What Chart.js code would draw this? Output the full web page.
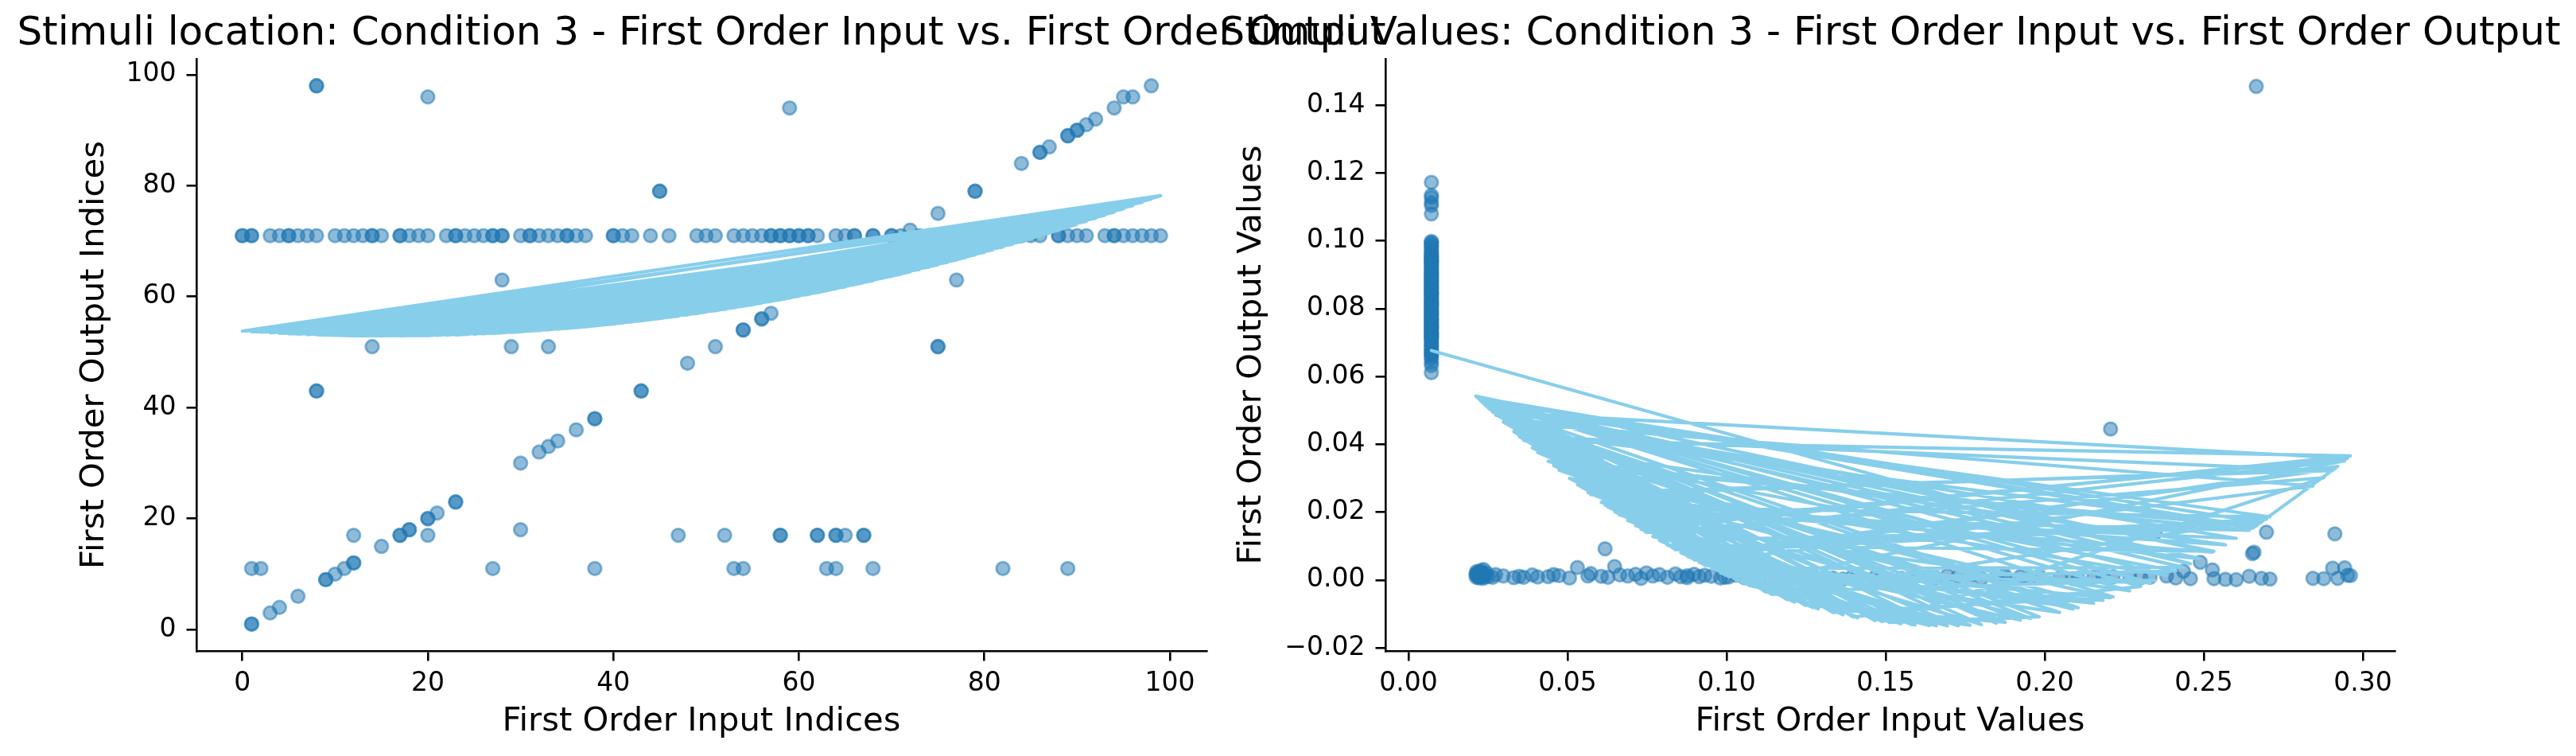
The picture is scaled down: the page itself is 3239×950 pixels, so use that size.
<!DOCTYPE html>
<html>
<head>
<meta charset="utf-8">
<script src="https://cdn.jsdelivr.net/npm/chart.js@4.4.0/dist/chart.umd.min.js"></script>
<style>
  html, body { margin: 0; padding: 0; background: #fff; }
  #wrap { position: relative; width: 3239px; height: 950px; }
  canvas { position: absolute; left: 0; top: 0; }
</style>
</head>
<body>
<div id="wrap">
  <canvas id="idxChart" width="3239" height="950"></canvas>
  <canvas id="valChart" width="3239" height="950"></canvas>
</div>
<script>
// ---- data: stimuli location (indices), in recorded order ----
const idxInput = [
  57,3,88,24,70,12,95,40,1,66, 31,83,18,59,7,91,44,27,61,99,
  0,50,35,76,14,86,22,58,10,97, 33,64,5,80,41,17,94,53,28,68,
  13,89,36,60,4,73,25,98,46,19, 85,31,57,6,93,42,23,70,11,55,
  88,35,1,78,62,26,96,49,15,66, 37,84,8,59,30,74,20,90,54,14,
  61,0,81,40,27,94,51,17,68,32, 5,71,58,23,65,28,60,34,56,
  54,8,89,12,75,33,96,1,62,20, 86,38,45,9,64,90,28,17,54,98,
  3,67,43,79,14,56,2,91,23,58, 30,82,10,87,20,51,75,8,64,18,
  94,36,47,1,89,59,21,72,62,6, 90,29,38,65,12,86,54,33,4,79,
  53,34,92,17,68,43,20,95,11,57, 30,84,23,63,8,48,67,15,89,27,
  56,45,1,64,32,77,9,58,38,18, 52,75,20,12,8
];
const idxOutput = [
  71,71,71,71,71,71,71,71,71,71, 71,71,71,71,71,71,71,71,71,71,
  71,71,71,71,71,71,71,71,71,71, 71,71,71,71,71,71,71,71,71,71,
  71,71,71,71,71,71,71,71,71,71, 71,71,71,71,71,71,71,71,71,71,
  71,71,71,71,71,71,71,71,71,71, 71,71,71,71,71,71,71,71,71,71,
  71,71,71,71,71,71,71,71,71,71, 71,71,71,71,71,71,71,71,71,
  54,98,11,12,51,33,96,11,17,20, 86,11,79,9,17,90,63,17,11,98,
  3,17,43,79,51,56,11,91,23,17, 30,11,10,87,17,51,75,43,11,18,
  94,36,17,1,89,94,21,72,17,6, 90,51,38,17,17,86,54,51,4,79,
  11,34,92,17,11,43,96,96,11,57, 18,84,23,11,98,48,17,15,89,11,
  56,79,1,17,32,63,9,17,38,18, 17,51,20,12,43
];
const idxFitCoef = [0.003634, -0.1133, 53.8];
const idxTicks = [0, 20, 40, 60, 80, 100];

// ---- data: stimuli values, in recorded order ----
const valInput = [
  0.0072,0.0072,0.0072,0.0072,0.0072,0.0072,0.0072,0.0072,0.0072,0.0072,
  0.0072,0.0072,0.0072,0.0072,0.0072,0.0072,0.0072,0.0072,0.0072,0.0072,
  0.0072,0.0072,0.0072,0.0072,0.0072,0.0072,0.0072,0.0072,0.0072,0.0072,
  0.0072,0.0072,0.0072,0.0072,0.0072,0.0072,0.0072,0.0072,0.0072,0.0072,
  0.0072,0.0072,0.0072,0.0072,0.0072,0.0072,0.0072,0.0072,0.0072,0.0072,
  0.0072,0.0072,0.0072,0.0072,0.0072,0.0072,0.0072,0.0072,0.0072,0.0072,
  0.0072,0.0072,0.0072,0.0072,0.0072,0.0072,0.0072,0.0072,0.0072,0.0072,
  0.0072,0.0072,0.0072,0.0072,0.0072,0.0072,0.0072,0.0072,0.0072,0.0072,
  0.0072,0.0072,0.0072,0.0072,0.0072,0.0072,0.0072,0.0072,0.0072,0.0072,
  0.0072,0.0072,0.0072,0.0072,0.0072,
  0.2458,0.0231,0.1582,0.0564,0.2905,0.0348,0.1214,0.0789,0.2653,0.0224,
  0.1876,0.0473,0.2207,0.0914,0.2843,0.0298,0.1366,0.0618,0.2527,0.0212,
  0.1031,0.2412,0.0406,0.1728,0.0714,0.2952,0.0265,0.2089,0.0531,0.1143,
  0.2697,0.0839,0.0236,0.1955,0.0606,0.2568,0.0389,0.1489,0.2877,0.0748,
  0.0219,0.2331,0.0981,0.1637,0.0456,0.2665,0.0331,0.1288,0.0877,0.2912,
  0.0573,0.2489,0.0228,0.1801,0.0664,0.2643,0.0439,0.2154,0.0931,0.0251,
  0.2708,0.0627,0.1412,0.0506,0.2383,0.0214,0.1056,0.2943,0.0768,0.1923,
  0.0274,0.2602,0.0648,0.1271,0.0856,0.2681,0.0222,0.2267,0.0689,0.1548,
  0.0952,0.2436,0.0245,0.2532,0.0814,0.1694,0.0731,0.2961,0.0362,0.2047,
  0.0898,0.2921,0.2658,0.0217,0.1006,0.2347,
  0.1123,0.0215,0.1847,0.0233,0.1334,0.2215,0.0221,0.1592,0.0876,0.2105,
  0.0238,0.1467,0.0226,0.1765,0.1189,0.0213,0.2302,0.1398,0.0229,0.1659,
  0.1071,0.0241,0.1983,0.1512,0.0218,0.1246,0.1874,0.0235,0.0995,0.2183
];
const valOutput = [
  0.0852,0.0713,0.0934,0.0781,0.0668,0.0897,0.0745,0.0963,0.0821,0.0689,
  0.1104,0.0912,0.0756,0.0873,0.0641,0.0998,0.0795,0.0838,0.0722,0.0946,
  0.0611,0.0864,0.0768,0.0921,0.0702,0.0985,0.0814,0.0676,0.0889,0.0741,
  0.1127,0.0953,0.0803,0.0728,0.0867,0.0659,0.0975,0.0829,0.0783,0.0907,
  0.0695,0.0843,0.0762,0.0939,0.0632,0.0881,0.0716,0.0991,0.0808,0.0754,
  0.1172,0.0926,0.0846,0.0681,0.0899,0.0737,0.0968,0.0789,0.0652,0.0858,
  0.0776,0.0917,0.0709,0.0982,0.0835,0.0749,0.1134,0.0943,0.0817,0.0692,
  0.0876,0.0731,0.1079,0.0958,0.0798,0.0671,0.0892,0.0765,0.0929,0.0824,
  0.0719,0.0995,0.0861,0.0744,0.1112,0.0906,0.0787,0.0663,0.0951,0.0811,
  0.0726,0.0884,0.0771,0.0937,0.0848,
  0.0004,0.0021,0.0008,0.0012,0.0035,0.0011,0.0015,0.0016,0.0078,0.0009,
  0.0006,0.0013,0.0445,0.0010,0.0005,0.0012,0.0003,0.0092,0.0030,0.0017,
  0.0014,0.0006,0.0009,0.0011,0.0017,0.0014,0.0008,0.0004,0.0037,0.0012,
  0.0141,0.0018,0.0031,0.0007,0.0011,0.0002,0.0015,0.0009,0.0004,0.0021,
  0.0012,0.0008,0.0006,0.0010,0.0016,0.1455,0.0007,0.0005,0.0013,0.0136,
  0.0019,0.0052,0.0028,0.0004,0.0015,0.0011,0.0010,0.0009,0.0014,0.0010,
  0.0003,0.0008,0.0012,0.0006,0.0012,0.0025,0.0007,0.0036,0.0012,0.0010,
  0.0016,0.0001,0.0040,0.0008,0.0010,0.0005,0.0006,0.0011,0.0012,0.0005,
  0.0011,0.0026,0.0021,0.0004,0.0008,0.0013,0.0005,0.0013,0.0008,0.0006,
  0.0017,0.0005,0.0082,0.0014,0.0009,0.0139,
  0.0011,0.0019,0.0008,0.0013,0.0006,0.0010,0.0024,0.0012,0.0007,0.0005,
  0.0010,0.0009,0.0016,0.0011,0.0004,0.0008,0.0007,0.0013,0.0022,0.0006,
  0.0010,0.0015,0.0012,0.0003,0.0011,0.0009,0.0014,0.0005,0.0008,0.0013
];
const valFitCoef = [3.1, -1.0478, 0.07504];
const valTicksX = [0.00, 0.05, 0.10, 0.15, 0.20, 0.25, 0.30];
const valTicksY = [-0.02, 0.00, 0.02, 0.04, 0.06, 0.08, 0.10, 0.12, 0.14];

Chart.defaults.font.family = '"DejaVu Sans", sans-serif';
Chart.defaults.color = '#000';

const POINT = 'rgba(31, 119, 180, 0.5)';
const FIT = '#87ceeb';

// quadratic fit evaluated at each input, kept in recorded order (as plt.plot does)
function fitPoints(xs, c) {
  return xs.map(x => ({ x: x, y: c[0] * x * x + c[1] * x + c[2] }));
}

const axTitle = {
  id: 'axTitle',
  afterDraw(chart, args, opts) {
    const { ctx, chartArea } = chart;
    ctx.save();
    ctx.font = '50px "DejaVu Sans"';
    ctx.fillStyle = '#000';
    ctx.textAlign = 'center';
    ctx.textBaseline = 'alphabetic';
    ctx.fillText(opts.text, (chartArea.left + chartArea.right) / 2, 56);
    ctx.restore();
  }
};

function axis(o) {
  return {
    type: 'linear',
    min: o.min,
    max: o.max,
    afterBuildTicks: s => { s.ticks = o.ticks.map(v => ({ value: v })); },
    afterFit: o.fit,
    ticks: {
      font: { size: 33 }, color: '#000', padding: o.pad,
      maxRotation: 0, autoSkip: false, callback: o.fmt
    },
    grid: {
      display: true, drawOnChartArea: false, drawTicks: true,
      tickLength: 12.5, tickWidth: 2.6, lineWidth: 2.6, color: '#000'
    },
    border: { display: true, color: '#000', width: 2.6 },
    title: { display: true, text: o.title, font: { size: 41.7 }, color: '#000', padding: o.titlePad }
  };
}

function makeChart(id, cfg) {
  const pts = cfg.xs.map((x, i) => ({ x: x, y: cfg.ys[i] }));
  return new Chart(document.getElementById(id), {
    type: 'scatter',
    data: {
      datasets: [{
        data: pts,
        backgroundColor: POINT,
        borderColor: POINT,
        pointRadius: 8.3,
        borderWidth: 2.8,
        order: 1
      }, {
        data: fitPoints(cfg.xs, cfg.coef),
        showLine: true,
        pointRadius: 0,
        borderColor: FIT,
        borderWidth: 4.2,
        borderJoinStyle: 'round',
        borderCapStyle: 'round',
        tension: 0,
        order: 0
      }]
    },
    options: {
      responsive: false,
      animation: false,
      events: [],
      layout: { padding: cfg.padding },
      plugins: {
        legend: { display: false },
        tooltip: { enabled: false },
        axTitle: { text: cfg.title }
      },
      scales: { x: cfg.x, y: cfg.y }
    },
    plugins: [axTitle]
  });
}

const fmt2 = v => v.toFixed(2).replace('-', '\u2212');

// LEFT - INDICES
makeChart('idxChart', {
  xs: idxInput, ys: idxOutput, coef: idxFitCoef,
  title: 'Stimuli location: Condition 3 - First Order Input vs. First Order Output',
  padding: { left: 0, right: 1722, top: 74, bottom: 0 },
  x: axis({ min: -4.95, max: 103.95, ticks: idxTicks, pad: 9, fmt: v => String(v),
            fit: s => { s.height = 132; },
            title: 'First Order Input Indices', titlePad: { top: 0, bottom: 18 } }),
  y: axis({ min: -3.85, max: 102.85, ticks: idxTicks, pad: 13, fmt: v => String(v),
            fit: s => { s.width = 247; },
            title: 'First Order Output Indices', titlePad: { top: 94, bottom: 0 } })
});

// RIGHT - VALUES
makeChart('valChart', {
  xs: valInput, ys: valOutput, coef: valFitCoef,
  title: 'Stimuli Values: Condition 3 - First Order Input vs. First Order Output',
  padding: { left: 1500, right: 228, top: 74, bottom: 0 },
  x: axis({ min: -0.00725, max: 0.31, ticks: valTicksX, pad: 9, fmt: fmt2,
            fit: s => { s.height = 132; },
            title: 'First Order Input Values', titlePad: { top: 0, bottom: 18 } }),
  y: axis({ min: -0.0209, max: 0.1536, ticks: valTicksY, pad: 13, fmt: fmt2,
            fit: s => { s.width = 242; },
            title: 'First Order Output Values', titlePad: { top: 48.8, bottom: 0 } })
});
</script>
</body>
</html>
